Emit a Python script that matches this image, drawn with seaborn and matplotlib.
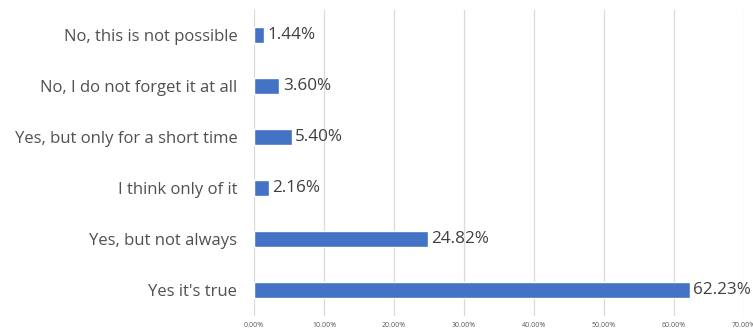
import matplotlib
matplotlib.use("Agg")
import matplotlib.pyplot as plt
import seaborn as sns
import pandas as pd
from matplotlib.ticker import FuncFormatter

categories = [
    "No, this is not possible",
    "No, I do not forget it at all",
    "Yes, but only for a short time",
    "I think only of it",
    "Yes, but not always",
    "Yes it's true",
]
values = [1.44, 3.60, 5.40, 2.16, 24.82, 62.23]
xticks = [0, 10, 20, 30, 40, 50, 60, 70]

df = pd.DataFrame({"answer": categories, "share": values})

sns.set_style("white")
plt.rcParams["font.family"] = ["Open Sans", "DejaVu Sans"]

fig = plt.figure(figsize=(7.53, 3.32), dpi=100)
ax = fig.add_axes([254 / 753, 1 - 315.5 / 332, 490 / 753, 306 / 332])

sns.barplot(data=df, x="share", y="answer", orient="h", color="#4472C4",
            saturation=1, width=0.31, ax=ax, zorder=3)

ax.set_xlim(0, 70)
ax.set_ylim(5.5, -0.5)
ax.set_xticks(xticks)
ax.xaxis.set_major_formatter(FuncFormatter(lambda v, p: f"{v:.2f}%"))
ax.grid(axis="x", color="#d9d9d9", linewidth=0.9, zorder=0)
ax.grid(axis="y", visible=False)
for s in ax.spines.values():
    s.set_visible(False)
ax.tick_params(axis="x", length=0, labelsize=5, labelcolor="#595959", pad=5)
ax.tick_params(axis="y", length=0, labelsize=12.0, labelcolor="#505050", pad=12)
ax.set_xlabel("")
ax.set_ylabel("")

for i, v in enumerate(values):
    ax.text(v + 0.5, i, f"{v:.2f}%", va="center", ha="left",
            fontsize=12.3, color="#404040")

fig.savefig("out.png", dpi=100)
